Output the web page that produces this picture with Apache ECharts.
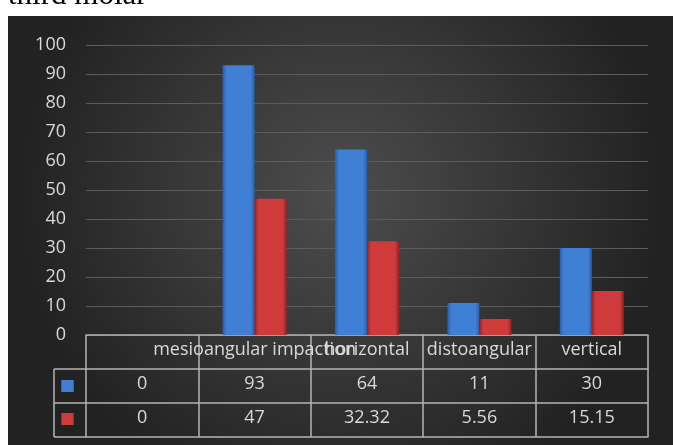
<!DOCTYPE html>
<html><head><meta charset="utf-8">
<script src="https://cdn.jsdelivr.net/npm/echarts@6/dist/echarts.min.js"></script>
<style>html,body{margin:0;padding:0;background:#fff;}#c{width:673px;height:445px;}</style>
</head><body><div id="c"></div>
<script>
const titleText = 'third molar';
const categories = ['', 'mesioangular impaction', 'horizontal', 'distoangular', 'vertical'];
const series1 = [0, 93, 64, 11, 30];
const series2 = [0, 47, 32.32, 5.56, 15.15];
const yTicks = { min: 0, max: 100, interval: 10 };

const lineCol = '#b4b4b4';
const txtCol = '#d9d9d9';
const font = 'Open Sans';

function barGrad(edge, mid) {
  return { type: 'linear', x: 0, y: 0, x2: 1, y2: 0, colorStops: [
    { offset: 0, color: edge }, { offset: 0.12, color: mid }, { offset: 0.88, color: mid }, { offset: 1, color: edge } ] };
}
const blueFill = barGrad('#2a5ea8', '#3f7fd4');
const redFill = barGrad('#962022', '#cf3a3b');

function tableAxis(data, offset, showLabel, showTick) {
  return {
    type: 'category', data: data, position: 'bottom', offset: offset,
    axisLine: { show: true, lineStyle: { color: lineCol, width: 1.5 } },
    axisTick: { show: showTick, length: 34, lineStyle: { color: lineCol, width: 1.5 } },
    axisLabel: { show: showLabel, interval: 0, color: txtCol, fontFamily: font, fontSize: 18, margin: 6 },
    splitLine: { show: false }
  };
}

const chart = echarts.init(document.getElementById('c'), null, { renderer: 'canvas' });
chart.setOption({
  backgroundColor: '#ffffff',
  animation: false,
  graphic: [
    { type: 'rect', z: -10, shape: { x: 8, y: 16, width: 665, height: 429 },
      style: { fill: { type: 'radial', x: 0.5, y: 0.42, r: 0.75, colorStops: [
        { offset: 0, color: '#4d4d4d' }, { offset: 1, color: '#222222' } ] } } },
    { type: 'text', x: 8, y: 11, style: { text: titleText, font: '31px "Liberation Serif"', fill: '#000', verticalAlign: 'bottom', align: 'left' } },
    { type: 'line', shape: { x1: 54, y1: 369, x2: 86, y2: 369 }, style: { stroke: lineCol, lineWidth: 1.5 } },
    { type: 'line', shape: { x1: 54, y1: 403, x2: 86, y2: 403 }, style: { stroke: lineCol, lineWidth: 1.5 } },
    { type: 'line', shape: { x1: 54, y1: 437, x2: 86, y2: 437 }, style: { stroke: lineCol, lineWidth: 1.5 } },
    { type: 'line', shape: { x1: 54, y1: 369, x2: 54, y2: 437 }, style: { stroke: lineCol, lineWidth: 1.5 } },
    { type: 'rect', shape: { x: 61, y: 380, width: 13, height: 12 }, style: { fill: blueFill } },
    { type: 'rect', shape: { x: 61, y: 413, width: 13, height: 12 }, style: { fill: redFill } }
  ],
  grid: { left: 86, right: 25, top: 45, bottom: 110, containLabel: false },
  xAxis: [
    tableAxis(categories, 0, true, true),
    tableAxis(series1.map(String), 34, true, true),
    tableAxis(series2.map(String), 68, true, true),
    tableAxis(categories, 102, false, false)
  ],
  yAxis: {
    type: 'value', min: yTicks.min, max: yTicks.max, interval: yTicks.interval,
    axisLine: { show: false }, axisTick: { show: false },
    axisLabel: { color: txtCol, fontFamily: font, fontSize: 18, margin: 20 },
    splitLine: { lineStyle: { color: '#5c5c5c', width: 1 } }
  },
  series: [
    { type: 'bar', name: 's1', data: series1, xAxisIndex: 0, barWidth: 32, barGap: '0%',
      itemStyle: { color: blueFill, borderWidth: 0 } },
    { type: 'bar', name: 's2', data: series2, xAxisIndex: 0, barWidth: 32, barGap: '0%',
      itemStyle: { color: redFill, borderWidth: 0 } }
  ]
});
</script></body></html>
